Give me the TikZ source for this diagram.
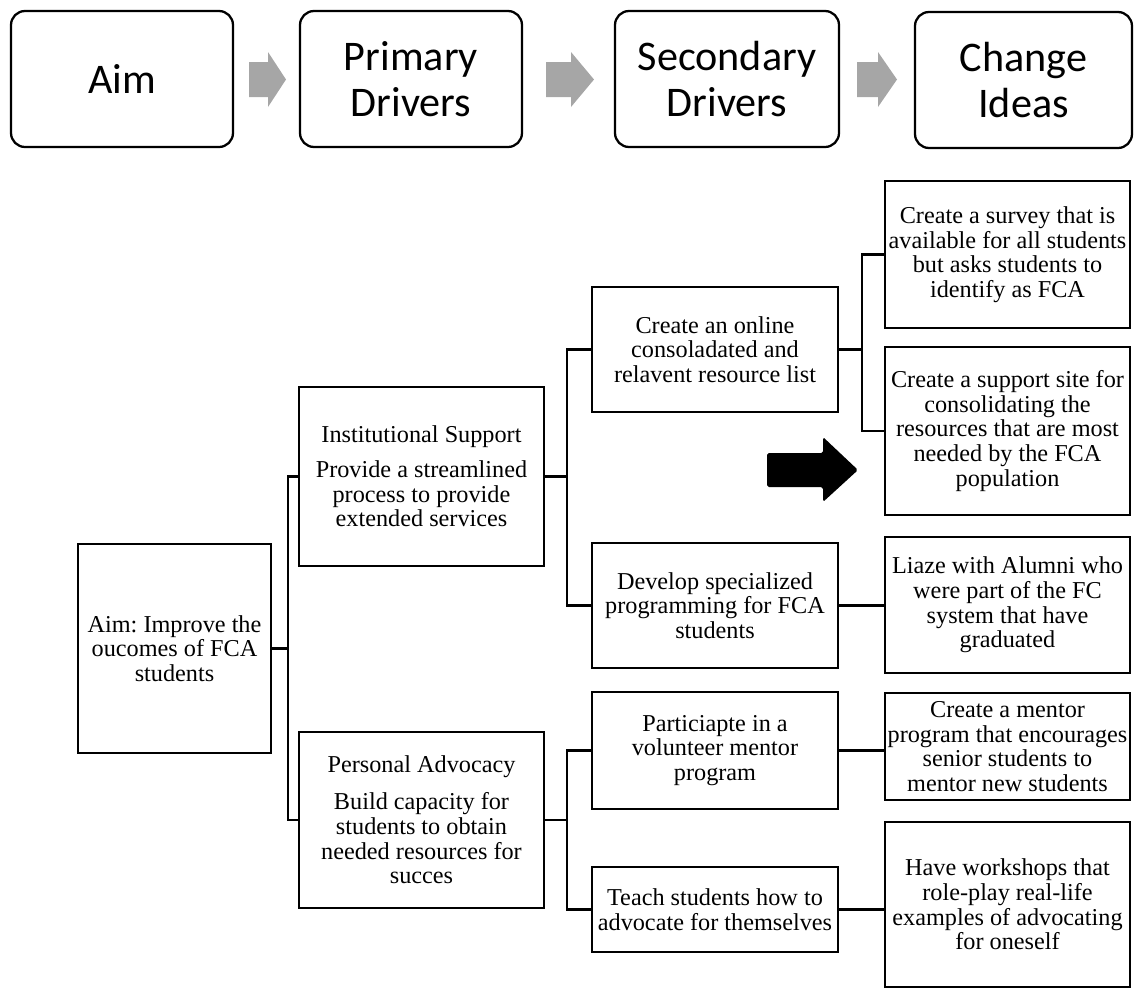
\documentclass[tikz,border=0pt]{standalone}
\usepackage{fontspec}
\setmainfont{Liberation Serif}
\newfontfamily\hdfont{Carlito}
\definecolor{arrowgray}{RGB}{166,166,166}
\frenchspacing

\begin{document}
\begin{tikzpicture}[x=0.02cm, y=-0.02cm, line width=1.3pt,
	sz/.style 2 args={minimum width=#1*0.02cm, minimum height=#2*0.02cm},
	hd/.style={draw, rounded corners=8pt, align=center, inner sep=0pt, font=\hdfont\fontsize{24}{26}\selectfont},
	box/.style={draw, align=center, inner sep=0pt, font=\fontsize{13.8}{14}\selectfont}]
	\useasboundingbox (0,0) rectangle (1134,991);
	\node[hd, sz={222}{136}] (haim) at (122,79) {Aim};
	\node[hd, sz={222}{136}] (hprim) at (411,79) {Primary\\Drivers};
	\node[hd, sz={224}{136}] (hsec) at (727,79) {Secondary\\Drivers};
	\node[hd, sz={217}{136}] (hchg) at (1023.5,80) {Change\\Ideas};
	\foreach \a/\b/\c in {249/268/286, 546/571/594, 857/878/897} {\fill[arrowgray] (\a,62) -- (\b,62) -- (\b,52) -- (\c,79.5) -- (\b,107) -- (\b,97) -- (\a,97) -- cycle;}
	\node[box, sz={193}{209}] (aim) at (174.5,648.5) {Aim: Improve the\\oucomes of FCA\\students};
	\node[box, sz={245}{179}] (inst) at (421.5,476.5) {Institutional Support\\[6pt]Provide a streamlined\\process to provide\\extended services};
	\node[box, sz={245}{176}] (pers) at (421.5,820) {Personal Advocacy\\[7pt]Build capacity for\\students to obtain\\needed resources for\\succes};
	\node[box, sz={246}{125}] (s1) at (715,349.5) {Create an online\\consoladated and\\relavent resource list};
	\node[box, sz={246}{125}] (s2) at (715,605.5) {Develop specialized\\programming for FCA\\students};
	\node[box, sz={246}{117}] (s3) at (715,750.5) {Particiapte in a\\volunteer mentor\\program};
	\node[box, sz={246}{85}] (s4) at (715,909.5) {Teach students how to\\advocate for themselves};
	\node[box, sz={245}{147}] (c1) at (1007.5,254.5) {Create a survey that is\\available for all students\\but asks students to\\identify as FCA};
	\node[box, sz={245}{168}] (c2) at (1007.5,431) {Create a support site for\\consolidating the\\resources that are most\\needed by the FCA\\population};
	\node[box, sz={245}{136}] (c3) at (1007.5,605) {Liaze with Alumni who\\were part of the FC\\system that have\\graduated};
	\node[box, sz={245}{107}] (c4) at (1007.5,746.5) {Create a mentor\\program that encourages\\senior students to\\mentor new students};
	\node[box, sz={245}{165}] (c5) at (1007.5,904.5) {Have workshops that\\role-play real-life\\examples of advocating\\for oneself};
	\coordinate (j1) at (288,648.5);
	\coordinate (j2) at (567,476.5);
	\coordinate (j3) at (567,820);
	\coordinate (j4) at (862,349.5);
	\draw (aim.east) -- (j1);
	\draw (inst.west) -| (j1) |- (pers.west);
	\draw (inst.east) -- (j2);
	\draw (s1.west) -| (j2) |- (s2.west);
	\draw (pers.east) -- (j3);
	\draw (s3.west) -| (j3) |- (s4.west);
	\draw (s1.east) -- (j4);
	\draw (c1.west) -| (j4) |- (c2.west);
	\draw (s2.east) -- (s2.east -| c3.west);
	\draw (s3.east) -- (s3.east -| c4.west);
	\draw (s4.east) -- (s4.east -| c5.west);
	\fill[rounded corners=1pt] (767,453) -- (823,453) -- (823,437) -- (858,470) -- (823,502) -- (823,487) -- (767,487) -- cycle;
\end{tikzpicture}
\end{document}
